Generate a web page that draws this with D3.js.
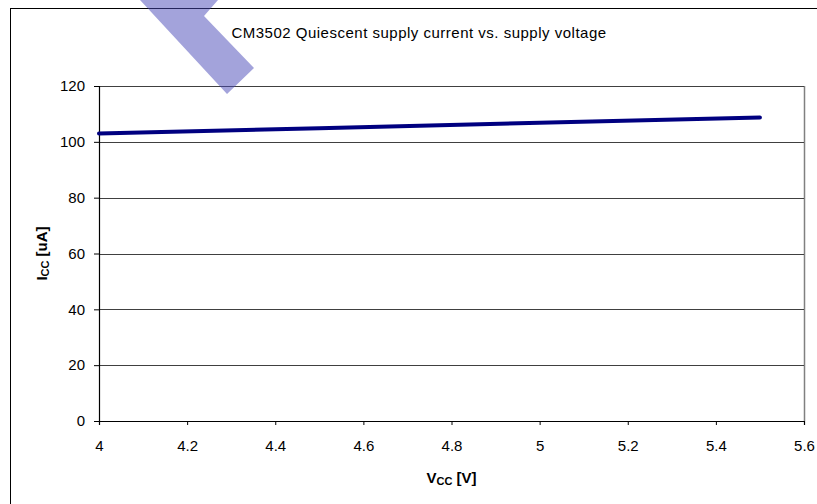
<!DOCTYPE html>
<html><head><meta charset="utf-8">
<script src="https://cdn.jsdelivr.net/npm/d3@7"></script>
<style>body{margin:0;background:#fff}svg{display:block;font-family:Arial,"Liberation Sans",sans-serif}</style>
</head><body>
<svg id="c" width="817" height="504"></svg>
<script>
const voltage = [4.0, 4.5, 5.0, 5.5];
const current = [103.0, 104.9, 106.8, 108.7];
const xTicks = [4, 4.2, 4.4, 4.6, 4.8, 5, 5.2, 5.4, 5.6];
const yTicks = [0, 20, 40, 60, 80, 100, 120];
const title = "CM3502 Quiescent supply current vs. supply voltage";

const svg = d3.select("#c");
const m = {l:99, r:804, t:86, b:421};
const x = d3.scaleLinear().domain([4, 5.6]).range([m.l, m.r]);
const y = d3.scaleLinear().domain([0, 120]).range([m.b, m.t]);
const FONT = "Arial, 'Liberation Sans', sans-serif";

// outer chart border
svg.append("rect").attr("x",10.5).attr("y",8.5).attr("width",830).attr("height",520)
  .attr("fill","none").attr("stroke","#000").attr("stroke-width",1);

// title
svg.append("text").attr("x",419).attr("y",38).attr("text-anchor","middle")
  .attr("font-size",15).attr("letter-spacing",0.5).attr("fill","#000").text(title);

// plot area right border
svg.append("line").attr("x1",m.r+0.5).attr("x2",m.r+0.5).attr("y1",m.t).attr("y2",m.b)
  .attr("stroke","#808080").attr("stroke-width",1.5);

// gridlines
svg.append("g").selectAll("line").data(yTicks.filter(d=>d>0)).join("line")
  .attr("x1",m.l).attr("x2",m.r).attr("y1",d=>Math.round(y(d))+0.5).attr("y2",d=>Math.round(y(d))+0.5)
  .attr("stroke","#404040").attr("stroke-width",1);

// axes
const yAxis = svg.append("g").attr("transform",`translate(${m.l},0)`)
  .call(d3.axisLeft(y).tickValues(yTicks).tickSize(5).tickPadding(9).tickFormat(d3.format("d")));
const xAxis = svg.append("g").attr("transform",`translate(0,${m.b})`)
  .call(d3.axisBottom(x).tickValues(xTicks).tickSize(4).tickPadding(15).tickFormat(d=>String(+d.toFixed(1))));
[yAxis,xAxis].forEach(g=>{
  g.select(".domain").attr("stroke","#000").attr("stroke-width",1.2);
  g.selectAll(".tick line").attr("stroke","#000");
  g.selectAll("text").attr("font-size",15).attr("fill","#000").attr("font-family",FONT);
});

// series line
svg.append("path").datum(voltage.map((v,i)=>[v,current[i]]))
  .attr("d", d3.line().x(d=>x(d[0])).y(d=>y(d[1])))
  .attr("fill","none").attr("stroke","#000080").attr("stroke-width",4).attr("stroke-linecap","round");

// axis titles
const xl = svg.append("text").attr("x",(m.l+m.r)/2).attr("y",483).attr("text-anchor","middle")
  .attr("font-size",15).attr("font-weight","bold");
xl.append("tspan").text("V");
xl.append("tspan").attr("font-size",11).attr("dy",2).text("CC");
xl.append("tspan").attr("dy",-2).text(" [V]");

const yl = svg.append("text").attr("transform",`translate(47,${(m.t+m.b)/2}) rotate(-90)`)
  .attr("text-anchor","middle").attr("font-size",15).attr("font-weight","bold");
yl.append("tspan").text("I");
yl.append("tspan").attr("font-size",11).attr("dy",2).text("CC");
yl.append("tspan").attr("dy",-2).text(" [uA]");

// watermark shape
svg.append("polygon").attr("points","140,0 218,0 204,16 254,68 227,94")
  .attr("fill","#4747b8").attr("fill-opacity",0.5);
</script>
</body></html>
